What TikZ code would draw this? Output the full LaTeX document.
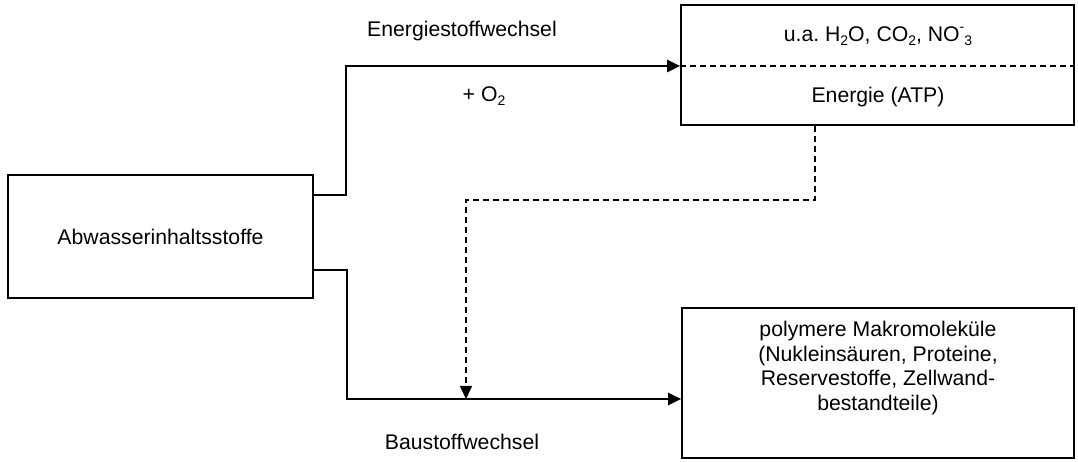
\documentclass[tikz,border=0pt]{standalone}
\usepackage{fontspec}
\setmainfont{Liberation Sans}
\usetikzlibrary{arrows.meta}
\frenchspacing
\newcommand{\sbs}[1]{\raisebox{-0.35ex}{\fontsize{14}{14}\selectfont #1}}
\newcommand{\sps}[1]{\raisebox{0.85ex}{\fontsize{14}{14}\selectfont #1}}
\begin{document}
\begin{tikzpicture}[x=1bp,y=-1bp,
  box/.style={draw,line width=1.7bp,inner sep=0pt},
  lbl/.style={font=\fontsize{21.3}{25}\selectfont,align=center,inner sep=0pt},
  flow/.style={line width=2.2bp,-{Triangle[length=13bp,width=12bp]}},
  dflow/.style={line width=1.5bp,dash pattern=on 6bp off 4bp,-{Triangle[length=13bp,width=12bp]}}]
\useasboundingbox (0,0) rectangle (1078,462);
% boxes
\node[box,minimum width=393bp,minimum height=120bp] (top) at (877.5,65) {};
\node[box,minimum width=305bp,minimum height=123bp] (src) at (160.5,236.5) {};
\node[box,minimum width=392bp,minimum height=150bp] (bot) at (878,383) {};
\draw[dash pattern=on 6bp off 4bp,line width=1.4bp] (top.west |- 0,66) coordinate (tl) -- (top.east |- 0,66);
% texts
\node[lbl] (t1) at (878,36) {u.a. H\sbs{2}O, CO\sbs{2}, NO\sps{-}\sbs{3}};
\node[lbl] (t2) at (878,97) {Energie (ATP)};
\node[lbl] (t3) at (160.5,236.5) {Abwasserinhaltsstoffe};
\node[lbl] (t4) at (878,368) {polymere Makromoleküle\\(Nukleinsäuren, Proteine,\\Reservestoffe, Zellwand-\\bestandteile)};
\node[lbl] (e) at (462,31) {Energiestoffwechsel};
\node[lbl] (o) at (484,96) {+ O\sbs{2}};
\node[lbl] (b) at (462,442) {Baustoffwechsel};
% connectors
\coordinate (a1) at (src.east |- 0,195);
\coordinate (a2) at (src.east |- 0,270);
\coordinate (p1) at (346,66);
\coordinate (p2) at (347,399);
\coordinate (m) at (466,399);
\coordinate (d1) at (815,200);
\draw[flow] (a1) -| (p1) -- (tl);
\draw[flow] (a2) -| (p2) -- (bot.west |- p2);
\draw[dflow] (top.south -| d1) |- (d1) -| (m);
\end{tikzpicture}
\end{document}
